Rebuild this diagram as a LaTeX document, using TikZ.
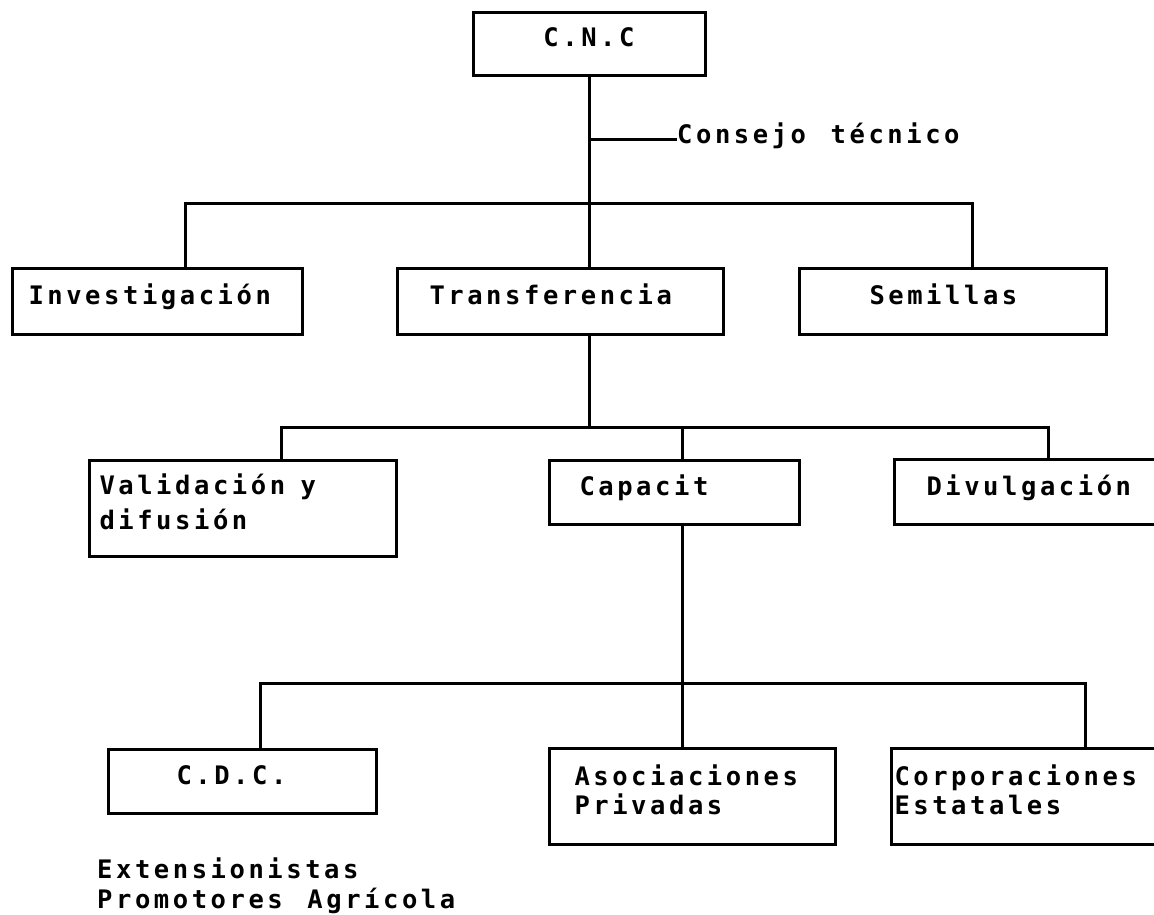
\documentclass[tikz,border=0pt]{standalone}
\usepackage{fontspec}
\newfontfamily\maquina[LetterSpace=14,WordSpace=1.3]{DejaVu Sans Mono Bold}
\begin{document}
\begin{tikzpicture}[x=1pt,y=-1pt]
	\tikzstyle{caja}=[draw,line width=3pt,anchor=north west,align=left,inner ysep=0pt,text height=20pt,text depth=14pt,font=\maquina\fontsize{25.5}{31}\selectfont]
	\tikzstyle{linea}=[line width=3pt]
	\tikzstyle{texto}=[inner sep=0pt,anchor=base west,font=\maquina\fontsize{25.5}{31}\selectfont]
	\def\NivelA{267}
	\def\NivelB{459}
	\def\NivelC{747}
	\useasboundingbox (0,0) rectangle (1154,914);
	\clip (0,0) rectangle (1154,914);
	% cajas
	\node[caja,anchor=center,align=center,minimum width=232pt,minimum height=63pt] (cnc) at (589,43.5) {C.N.C};
	\node[texto] (con) at (677,143) {Consejo técnico};
	\node[caja,inner xsep=16pt,text width=258pt,minimum height=66pt] (inv) at (11,\NivelA) {Investigación};
	\node[caja,inner xsep=32pt,text width=262pt,minimum height=66pt] (tra) at (396,\NivelA) {Transferencia};
	\node[caja,inner xsep=70pt,text width=167pt,minimum height=66pt] (sem) at (798,\NivelA) {Semillas};
	\node[caja,inner xsep=10pt,text width=287pt,minimum height=96pt,text depth=49pt,font=\maquina\fontsize{25.5}{35}\selectfont] (val) at (88,\NivelB) {Validación\hspace{15.4pt}y\\difusión};
	\node[caja,inner xsep=30pt,text width=190pt,minimum height=64pt] (cap) at (548,\NivelB) {Capacit};
	\node[caja,inner xsep=32pt,text width=236pt,minimum height=65pt] (div) at (893,458) {Divulgación};
	\node[caja,inner xsep=68pt,text width=132pt,minimum height=64pt] (cdc) at (107,748) {C.D.C.};
	\node[caja,inner xsep=25pt,text width=236pt,minimum height=96pt,text depth=43pt,font=\maquina\fontsize{25.5}{29}\selectfont] (aso) at (548,\NivelC) {Asociaciones\\Privadas};
	\node[caja,inner xsep=3pt,text width=294pt,minimum height=96pt,text depth=43pt,font=\maquina\fontsize{25.5}{29}\selectfont] (cor) at (890,\NivelC) {Corporaciones\\Estatales};
	\node[texto] (ext) at (97,878) {Extensionistas};
	\node[texto] (pro) at (97,908) {Promotores Agrícola};
	% puntos de las ramas
	\coordinate (k1) at (589,139);
	\coordinate (r1) at (589,203);
	\coordinate (d1) at (185,\NivelA);
	\coordinate (d3) at (972,\NivelA);
	\coordinate (r2) at (589,427);
	\coordinate (d4) at (281,\NivelB);
	\coordinate (d5) at (682,\NivelB);
	\coordinate (d6) at (1048,458);
	\coordinate (r3) at (682,683);
	\coordinate (d7) at (260,748);
	\coordinate (d8) at (682,\NivelC);
	\coordinate (d9) at (1085,\NivelC);
	% lineas
	\draw[linea] (cnc.south) -- (cnc.south |- tra.north);
	\draw[linea] (k1) -- (k1 -| con.west);
	\draw[linea] (d1) |- (r1) -| (d3);
	\draw[linea] (tra.south -| r1) -- (r2);
	\draw[linea] (d4) |- (r2) -| (d6);
	\draw[linea] (r2 -| d5) -- (d5);
	\draw[linea] (cap.south -| d5) -- (r3);
	\draw[linea] (d7) |- (r3) -| (d9);
	\draw[linea] (r3) -- (d8);
\end{tikzpicture}
\end{document}
